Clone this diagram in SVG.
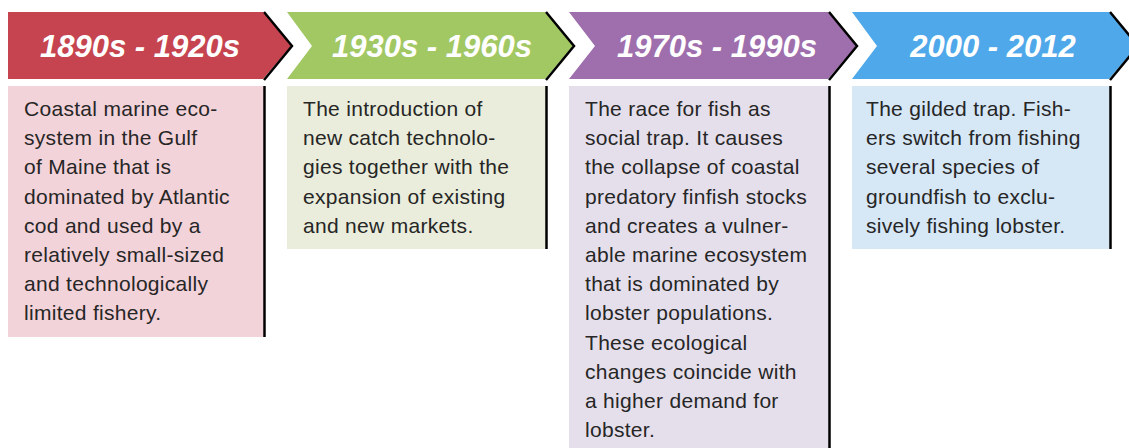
<svg xmlns="http://www.w3.org/2000/svg" width="1129" height="448" viewBox="0 0 1129 448">
<style>
.hd{font-family:"Liberation Sans",Arial,sans-serif;font-weight:bold;font-style:italic;font-size:31px;fill:#fff;text-anchor:middle}
.tx{font-family:"Liberation Sans",Arial,sans-serif;font-size:21px;letter-spacing:0.3px;fill:#262626}
.edge{fill:none;stroke:#000;stroke-width:2.5}
</style>
<rect width="1129" height="448" fill="#fff"/>
<g id="period1">
<polygon points="8,12 263,12 291,46 263,79 8,79" fill="#c6444f"/>
<polyline class="edge" points="264,12 292,46 264,80"/>
<text class="hd" x="140" y="57">1890s - 1920s</text>
<rect x="8" y="86" width="256" height="251" fill="#f3d3da"/>
<line x1="264.5" y1="86" x2="264.5" y2="337" stroke="#000" stroke-width="2.5"/>
<text class="tx" x="24" y="116">
<tspan x="24" y="116">Coastal marine eco-</tspan>
<tspan x="24" y="145.2">system in the Gulf</tspan>
<tspan x="24" y="174.4">of Maine that is</tspan>
<tspan x="24" y="203.6">dominated by Atlantic</tspan>
<tspan x="24" y="232.8">cod and used by a</tspan>
<tspan x="24" y="262">relatively small-sized</tspan>
<tspan x="24" y="291.2">and technologically</tspan>
<tspan x="24" y="320.4">limited fishery.</tspan>
</text>
</g>
<g id="period2">
<polygon points="287,12 545,12 573,46 545,79 287,79 312,46" fill="#a2c864"/>
<polyline class="edge" points="546,12 574,46 546,80"/>
<text class="hd" x="432" y="57">1930s - 1960s</text>
<rect x="287" y="86" width="259" height="163" fill="#eaeddb"/>
<line x1="546.5" y1="86" x2="546.5" y2="249" stroke="#000" stroke-width="2.5"/>
<text class="tx">
<tspan x="303" y="116">The introduction of</tspan>
<tspan x="303" y="145.2">new catch technolo-</tspan>
<tspan x="303" y="174.4">gies together with the</tspan>
<tspan x="303" y="203.6">expansion of existing</tspan>
<tspan x="303" y="232.8">and new markets.</tspan>
</text>
</g>
<g id="period3">
<polygon points="569,12 828,12 856,46 828,79 569,79 595,46" fill="#9e6ead"/>
<polyline class="edge" points="829,12 857,46 829,80"/>
<text class="hd" x="717" y="57">1970s - 1990s</text>
<rect x="569" y="86" width="260" height="362" fill="#e5dfeb"/>
<line x1="829.5" y1="86" x2="829.5" y2="448" stroke="#000" stroke-width="2.5"/>
<text class="tx">
<tspan x="585" y="116">The race for fish as</tspan>
<tspan x="585" y="145.2">social trap. It causes</tspan>
<tspan x="585" y="174.4">the collapse of coastal</tspan>
<tspan x="585" y="203.6">predatory finfish stocks</tspan>
<tspan x="585" y="232.8">and creates a vulner-</tspan>
<tspan x="585" y="262">able marine ecosystem</tspan>
<tspan x="585" y="291.2">that is dominated by</tspan>
<tspan x="585" y="320.4">lobster populations.</tspan>
<tspan x="585" y="349.6">These ecological</tspan>
<tspan x="585" y="378.8">changes coincide with</tspan>
<tspan x="585" y="408">a higher demand for</tspan>
<tspan x="585" y="437.2">lobster.</tspan>
</text>
</g>
<g id="period4">
<polygon points="852,12 1109,12 1137,46 1109,79 852,79 877,46" fill="#4fa8e9"/>
<polyline class="edge" points="1110,12 1138,46 1110,80"/>
<text class="hd" x="993" y="57">2000 - 2012</text>
<rect x="852" y="86" width="258" height="163" fill="#d6e7f6"/>
<line x1="1110.5" y1="86" x2="1110.5" y2="249" stroke="#000" stroke-width="2.5"/>
<text class="tx">
<tspan x="866" y="116">The gilded trap. Fish-</tspan>
<tspan x="866" y="145.2">ers switch from fishing</tspan>
<tspan x="866" y="174.4">several species of</tspan>
<tspan x="866" y="203.6">groundfish to exclu-</tspan>
<tspan x="866" y="232.8">sively fishing lobster.</tspan>
</text>
</g>
<g id="connectors"></g>
</svg>
